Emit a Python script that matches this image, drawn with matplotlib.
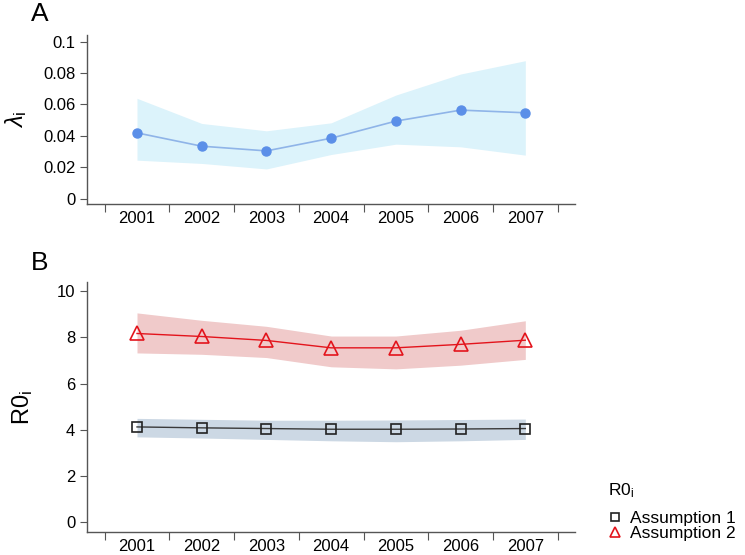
import matplotlib.pyplot as plt
import matplotlib.lines as mlines
import numpy as np

plt.rcParams['font.family'] = ['Liberation Sans', 'DejaVu Sans']
plt.rcParams['mathtext.fontset'] = 'custom'
plt.rcParams['mathtext.rm'] = 'Liberation Sans'
plt.rcParams['mathtext.it'] = 'Liberation Sans:italic'

# data
years = [2001, 2002, 2003, 2004, 2005, 2006, 2007]
lam = [0.0419, 0.0334, 0.0304, 0.0385, 0.0494, 0.0564, 0.0547]
lam_lo = [0.0245, 0.0224, 0.0189, 0.0281, 0.0347, 0.0330, 0.0277]
lam_hi = [0.0639, 0.0479, 0.0432, 0.0483, 0.0660, 0.0794, 0.0879]

r0_a1 = [4.13, 4.09, 4.06, 4.03, 4.03, 4.04, 4.06]
r0_a1_lo = [3.70, 3.65, 3.59, 3.53, 3.49, 3.53, 3.59]
r0_a1_hi = [4.50, 4.46, 4.42, 4.42, 4.43, 4.45, 4.47]
r0_a2 = [8.17, 8.04, 7.87, 7.55, 7.55, 7.70, 7.88]
r0_a2_lo = [7.33, 7.27, 7.13, 6.73, 6.64, 6.80, 7.05]
r0_a2_hi = [9.06, 8.74, 8.48, 8.06, 8.06, 8.31, 8.72]

spine_col = '#555555'

fig = plt.figure(figsize=(7.45, 5.55), dpi=100)
axA = fig.add_axes([0.117, 0.632, 0.655, 0.305])
axB = fig.add_axes([0.117, 0.042, 0.655, 0.449])


def style_axis(ax):
    for s in ['top', 'right']:
        ax.spines[s].set_visible(False)
    for s in ['left', 'bottom']:
        ax.spines[s].set_color(spine_col)
        ax.spines[s].set_linewidth(1.0)
    ax.set_xlim(2000.23, 2007.77)
    # ticks between the years, labels under the years
    ax.set_xticks(np.arange(2000.5, 2008, 1.0))
    ax.set_xticklabels([])
    ax.set_xticks(years, minor=True)
    ax.set_xticklabels([str(y) for y in years], minor=True)
    ax.tick_params(axis='x', which='major', length=6, color=spine_col)
    ax.tick_params(axis='x', which='minor', length=0, pad=5, labelsize=12)
    ax.tick_params(axis='y', length=5, color=spine_col, labelsize=12)


# panel A
axA.fill_between(years, lam_lo, lam_hi, color='#dcf3fb', lw=0)
axA.plot(years, lam, color='#8fb4e8', lw=1.2, marker='o', ms=6.5,
         mfc='#5b8fe8', mec='#5b8fe8')
axA.set_ylim(-0.0036, 0.1043)
axA.set_yticks([0, 0.02, 0.04, 0.06, 0.08, 0.1])
axA.set_yticklabels(['0', '0.02', '0.04', '0.06', '0.08', '0.1'])
axA.set_ylabel(r'$\lambda_\mathrm{i}$', fontsize=17, labelpad=10)
style_axis(axA)

# panel B
axB.fill_between(years, r0_a2_lo, r0_a2_hi, color='#f0caca', lw=0)
axB.fill_between(years, r0_a1_lo, r0_a1_hi, color='#ccd8e4', lw=0)
axB.plot(years, r0_a1, color='#3a3a3a', lw=1.0, marker='s', ms=7.5,
         mfc='none', mec='#222222', mew=1.2)
axB.plot(years, r0_a2, color='#e3141c', lw=1.0, marker='^', ms=10,
         mfc='none', mec='#e3141c', mew=1.2)
axB.set_ylim(-0.4, 10.375)
axB.set_yticks([0, 2, 4, 6, 8, 10])
axB.set_ylabel(r'R0$_\mathrm{i}$', fontsize=17, labelpad=16)
style_axis(axB)

fig.text(0.042, 0.962, 'A', fontsize=19)
fig.text(0.042, 0.514, 'B', fontsize=19)

h1 = mlines.Line2D([], [], ls='none', marker='s', ms=5.5, mfc='none',
                   mec='#222222', mew=1.2)
h2 = mlines.Line2D([], [], ls='none', marker='^', ms=7, mfc='none',
                   mec='#e3141c', mew=1.2)
leg = fig.legend([h1, h2], ['Assumption 1', 'Assumption 2'],
                 title=r'R0$_\mathrm{i}$', loc='lower left',
                 bbox_to_anchor=(0.795, -0.003), frameon=False, fontsize=12.5,
                 title_fontsize=12.5, handlelength=0.8, handletextpad=0.5,
                 labelspacing=0.0, alignment='left')
leg._legend_box.sep = 8

fig.savefig('out.png', dpi=100)
